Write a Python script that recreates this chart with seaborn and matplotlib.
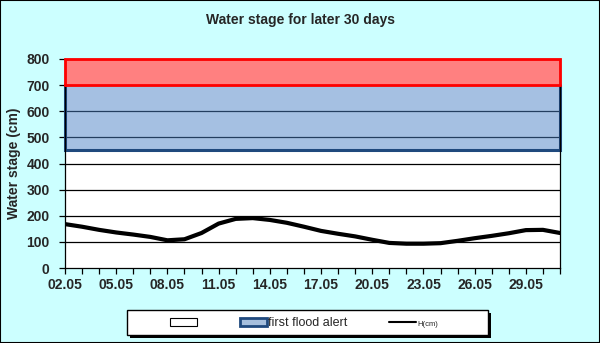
import matplotlib
matplotlib.use("Agg")
import matplotlib.pyplot as plt
import seaborn as sns
import pandas as pd
import numpy as np
from matplotlib.patches import Patch, Rectangle
from matplotlib.lines import Line2D

# ---- data ----
dates = ["02.05", "03.05", "04.05", "05.05", "06.05", "07.05", "08.05", "09.05", "10.05", "11.05",
         "12.05", "13.05", "14.05", "15.05", "16.05", "17.05", "18.05", "19.05", "20.05", "21.05",
         "22.05", "23.05", "24.05", "25.05", "26.05", "27.05", "28.05", "29.05", "30.05", "31.05"]
stage_cm = [168, 158, 146, 136, 128, 119, 106, 110, 134, 170,
            188, 191, 184, 173, 158, 142, 131, 121, 108, 96,
            93, 93, 95, 104, 114, 123, 133, 145, 146, 134]
alert_low = 450     # first flood alert lower bound
alert_high = 700    # first flood alert upper bound
danger_top = 800
y_ticks = [0, 100, 200, 300, 400, 500, 600, 700, 800]
title = "Water stage for later 30 days"
ylabel = "Water stage (cm)"
legend_labels = ["", "first flood alert", "H(cm)"]

df = pd.DataFrame({"day": np.arange(len(dates)), "H": stage_cm})

sns.set_theme(style="white")
plt.rcParams["font.family"] = ["Liberation Sans", "DejaVu Sans"]

bg = "#CCFFFF"
W, H = 600, 343
fig = plt.figure(figsize=(W / 100, H / 100), dpi=100, facecolor=bg)
ax = fig.add_axes([65 / W, 1 - 268 / H, 495 / W, 209 / H])
ax.set_facecolor("white")

n = len(dates)
ax.set_xlim(0, n - 1)
ax.set_ylim(0, danger_top)

# gridlines (under the semi-transparent bands)
for v in y_ticks[1:]:
    ax.axhline(v, color="black", lw=0.9, zorder=0.5)

# first flood alert band
ax.axhspan(alert_low, alert_high, facecolor=(72 / 255, 128 / 255, 196 / 255, 0.49),
           edgecolor="none", zorder=1)
ax.plot([0, 0, n - 1, n - 1], [alert_high, alert_low, alert_low, alert_high],
        color="#1F497D", lw=2.2, zorder=2, clip_on=False, solid_joinstyle="miter")
# danger band
ax.axhspan(alert_high, danger_top, facecolor="#FF8080", edgecolor="none", zorder=1)
ax.plot([0, 0, n - 1, n - 1, 0], [alert_high, danger_top, danger_top, alert_high, alert_high],
        color="#FF0000", lw=2.0, zorder=3, clip_on=False, solid_joinstyle="miter")

sns.lineplot(data=df, x="day", y="H", color="black", lw=3.0, ax=ax, zorder=4)

ax.set_yticks(y_ticks)
ax.set_yticklabels([str(v) for v in y_ticks], fontsize=10, fontweight="bold")
ax.set_xticks(np.arange(n))
ax.set_xticklabels([d if i % 3 == 0 else "" for i, d in enumerate(dates)],
                   fontsize=10, fontweight="bold")
ax.tick_params(axis="both", direction="out", length=4, width=0.9, color="black",
               bottom=True, left=True)
ax.tick_params(axis="y", pad=7)
ax.tick_params(axis="x", pad=3)
ax.set_xlabel("")
ax.set_ylabel(ylabel, fontsize=10, fontweight="bold", labelpad=4)
for s in ax.spines.values():
    s.set_color("black")
    s.set_linewidth(0.9)
    s.set_zorder(2.5)

fig.text(0.5, 1 - 20 / H, title, ha="center", va="center", fontsize=10, fontweight="bold")

# legend frame with shadow
fig.add_artist(Rectangle((130 / W, 1 - 338 / H), 361 / W, 25 / H, transform=fig.transFigure,
                         facecolor="black", edgecolor="none", zorder=5))
fig.add_artist(Rectangle((127 / W, 1 - 335 / H), 361 / W, 25 / H, transform=fig.transFigure,
                         facecolor="white", edgecolor="black", lw=1.0, zorder=6))

handles = [Patch(facecolor="white", edgecolor="black", lw=0.8),
           Patch(facecolor="#A6BFDD", edgecolor="#1F497D", lw=2),
           Line2D([], [], color="black", lw=1.5)]
leg = fig.legend(handles, legend_labels, loc="center",
                 bbox_to_anchor=(304 / W, 1 - 323 / H),
                 ncol=3, frameon=False, fontsize=9, handlelength=2.2,
                 handleheight=0.6, handletextpad=0.1, columnspacing=3.3,
                 borderaxespad=0, borderpad=0)
leg.set_zorder(7)
leg.get_texts()[2].set_fontsize(5.5)

fig.add_artist(Rectangle((0, 0), 1, 1, transform=fig.transFigure, fill=False,
                         edgecolor="black", lw=1.5, zorder=8))

fig.savefig("out.png", dpi=100, facecolor=bg)
